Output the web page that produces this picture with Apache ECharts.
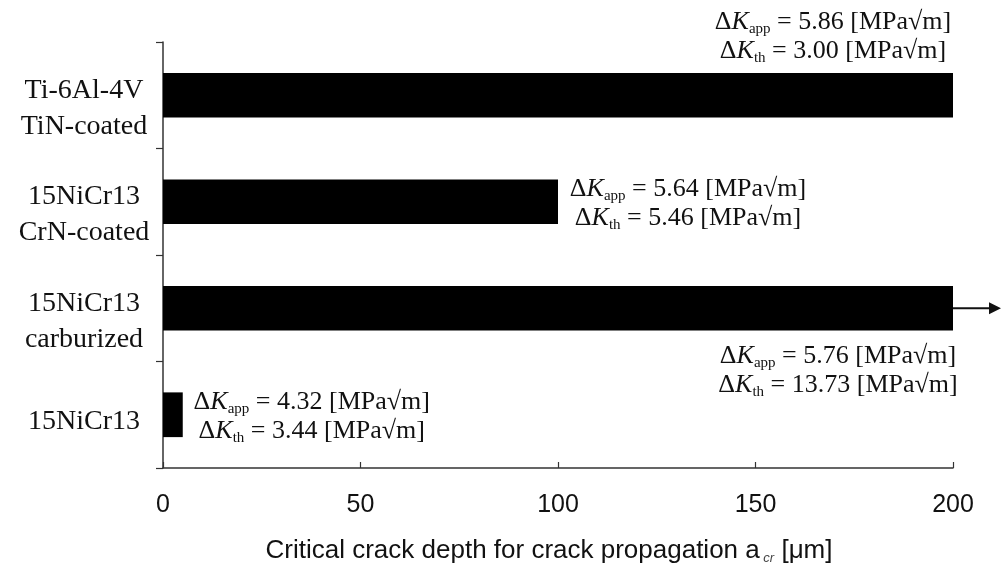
<!DOCTYPE html>
<html>
<head>
<meta charset="utf-8">
<script src="https://cdn.jsdelivr.net/npm/echarts@6/dist/echarts.min.js"></script>
<style>
html,body{margin:0;padding:0;background:#fff;}
#c{width:1003px;height:568px;}
</style>
</head>
<body>
<div id="c"></div>
<script>
const categories = ['15NiCr13', '15NiCr13\ncarburized', '15NiCr13\nCrN-coated', 'Ti-6Al-4V\nTiN-coated'];
const depths = [5, 200, 100, 200];
const kApp = ['4.32', '5.76', '5.64', '5.86'];
const kTh = ['3.44', '13.73', '5.46', '3.00'];
const xTicks = [0, 50, 100, 150, 200];

const serif = '"Liberation Serif", "DejaVu Serif", serif';
const sans = '"Liberation Sans", Arial, sans-serif';

const LH = 29;
const rich = {
  d: { fontFamily: serif, fontSize: 26, color: '#111', lineHeight: LH },
  k: { fontFamily: serif, fontSize: 26, fontStyle: 'italic', color: '#111', lineHeight: LH },
  s: { fontFamily: serif, fontSize: 15, color: '#111', verticalAlign: 'bottom', lineHeight: LH },
  t: { fontFamily: serif, fontSize: 26, color: '#111', lineHeight: LH }
};

function fmt(i) {
  return '{d|Δ}{k|K}{s|app}{t| = ' + kApp[i] + ' [MPa√m]}\n{d|Δ}{k|K}{s|th}{t| = ' + kTh[i] + ' [MPa√m]}';
}

const labelStyles = [
  { position: ['100%', '50%'], align: 'center', verticalAlign: 'middle', offset: [129, 2] },
  { position: ['100%', '100%'], align: 'center', verticalAlign: 'top', offset: [-115, 11] },
  { position: ['100%', '50%'], align: 'center', verticalAlign: 'middle', offset: [130, 2] },
  { position: ['100%', '0%'], align: 'center', verticalAlign: 'bottom', offset: [-120, -7] }
];

const catRich = {
  sp1: { fontSize: 10, lineHeight: 14 },
  sp2: { fontSize: 10, lineHeight: 26 },
  n: { fontFamily: serif, fontSize: 28, color: '#111', lineHeight: 36 }
};

const chart = echarts.init(document.getElementById('c'), null, { renderer: 'canvas' });

const option = {
  backgroundColor: '#fff',
  animation: false,
  grid: { left: 163, right: 50, top: 42, bottom: 100, containLabel: false, outerBoundsMode: 'none' },
  xAxis: {
    type: 'value',
    min: 0, max: 200, interval: 50,
    axisLine: { show: true, lineStyle: { color: '#333', width: 1.5 } },
    axisTick: { show: true, inside: true, length: 6, lineStyle: { color: '#333', width: 1.2 } },
    splitLine: { show: false },
    axisLabel: {
      fontFamily: sans, fontSize: 25, color: '#111', margin: 25,
      formatter: function (v) { return xTicks.indexOf(v) >= 0 ? String(v) : ''; }
    },
    name: '{n|Critical crack depth for crack propagation }{a|a}{c| cr}{n| [μm]}',
    nameLocation: 'middle',
    nameGap: 69,
    nameTextStyle: {
      padding: [0, 18, 0, 0],
      rich: {
        n: { fontFamily: sans, fontSize: 26, color: '#111', lineHeight: 28 },
        a: { fontFamily: sans, fontSize: 26, color: '#111', lineHeight: 28 },
        c: { fontFamily: sans, fontSize: 13, fontStyle: 'italic', color: '#444', verticalAlign: 'bottom', lineHeight: 26 }
      }
    }
  },
  yAxis: {
    type: 'category',
    data: categories,
    axisLine: { show: true, lineStyle: { color: '#333', width: 1.5 } },
    axisTick: { show: true, inside: false, length: 7, lineStyle: { color: '#333', width: 1.2 } },
    axisLabel: {
      align: 'center', margin: 79,
      formatter: function (v) {
        const lines = v.split('\n');
        if (lines.length === 1) return '{sp1| }\n{n|' + lines[0] + '}';
        return '{sp2| }\n{n|' + lines[0] + '}\n{n|' + lines[1] + '}';
      },
      rich: catRich
    },
    splitLine: { show: false }
  },
  series: [{
    type: 'bar',
    barWidth: '42%',
    itemStyle: { color: '#000' },
    data: depths.map(function (v, i) {
      return {
        value: v,
        label: Object.assign({ show: true, formatter: fmt(i), rich: rich }, labelStyles[i])
      };
    })
  }]
};

chart.setOption(option);

// arrow showing the carburized value exceeds the axis range
const p = chart.convertToPixel({ seriesIndex: 0 }, [depths[1], 1]);
chart.setOption({
  graphic: [
    { type: 'line', shape: { x1: p[0], y1: p[1], x2: p[0] + 38, y2: p[1] }, style: { stroke: '#111', lineWidth: 2 } },
    { type: 'polygon', shape: { points: [[p[0] + 36, p[1] - 6], [p[0] + 48, p[1]], [p[0] + 36, p[1] + 6]] }, style: { fill: '#111' } }
  ]
});
</script>
</body>
</html>
